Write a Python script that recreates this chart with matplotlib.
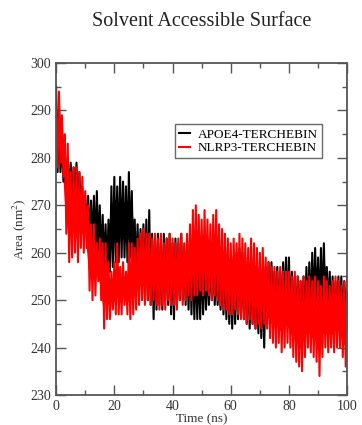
import numpy as np
import matplotlib
matplotlib.use("Agg")
import matplotlib.pyplot as plt
from matplotlib.ticker import MultipleLocator

plt.rcParams['font.family'] = ['Liberation Serif', 'DejaVu Serif']
plt.rcParams['mathtext.fontset'] = 'stix'

# time axis, 1 ns steps (0..100 ns)
time_ns = list(range(0, 101))

# APOE4-TERCHEBIN: upper / lower excursions read per ns
apoe4_hi = [295, 291, 285, 282, 280, 279, 278, 279, 277, 274,
            272, 272, 271, 272, 273, 270, 268, 266, 267, 274,
            276, 274, 276, 275, 274, 277, 273, 267, 266, 265,
            266, 267, 269, 264, 263, 264, 262, 264, 263, 264,
            262, 263, 262, 264, 261, 263, 262, 261, 260, 259,
            260, 259, 258, 260, 259, 258, 259, 258, 259, 260,
            259, 258, 260, 261, 260, 259, 258, 259, 258, 257,
            257, 256, 257, 258, 258, 256, 257, 256, 258, 259,
            259, 256, 255, 255, 254, 255, 257, 258, 260, 261,
            259, 261, 262, 257, 256, 255, 254, 255, 255, 254,
            255]
apoe4_lo = [277, 277, 275, 272, 271, 271, 270, 269, 268, 266,
            264, 262, 261, 260, 259, 257, 256, 256, 256, 257,
            258, 258, 259, 259, 258, 259, 257, 255, 253, 252,
            251, 250, 249, 246, 248, 249, 248, 250, 249, 247,
            246, 249, 250, 250, 249, 248, 247, 246, 246, 246,
            247, 248, 249, 250, 249, 249, 248, 247, 246, 245,
            244, 245, 246, 247, 246, 245, 244, 245, 244, 243,
            242, 240, 245, 246, 246, 247, 246, 246, 247, 246,
            245, 245, 244, 244, 243, 244, 245, 246, 247, 247,
            246, 247, 248, 247, 246, 245, 244, 245, 245, 244,
            244]

# NLRP3-TERCHEBIN
nlrp3_hi = [290, 294, 289, 285, 283, 277, 278, 278, 277, 276,
            273, 270, 266, 266, 262, 263, 262, 262, 258, 256,
            258, 262, 257, 258, 256, 262, 262, 261, 263, 264,
            265, 264, 264, 263, 264, 263, 264, 262, 263, 264,
            263, 262, 263, 264, 262, 264, 266, 269, 270, 268,
            267, 269, 267, 266, 268, 269, 266, 265, 264, 263,
            262, 263, 262, 264, 263, 262, 261, 263, 262, 261,
            260, 261, 259, 258, 257, 257, 256, 257, 256, 256,
            256, 255, 256, 255, 254, 255, 254, 255, 254, 255,
            254, 253, 255, 254, 253, 254, 255, 254, 253, 254,
            255]
nlrp3_lo = [278, 279, 276, 264, 258, 259, 260, 258, 261, 260,
            261, 252, 250, 251, 254, 250, 244, 246, 246, 248,
            247, 247, 247, 249, 247, 246, 247, 248, 249, 250,
            249, 250, 249, 250, 249, 248, 249, 248, 250, 249,
            249, 248, 250, 249, 250, 251, 250, 251, 251, 252,
            251, 252, 251, 250, 251, 250, 249, 248, 248, 247,
            247, 248, 247, 246, 246, 245, 246, 245, 244, 245,
            244, 245, 244, 242, 241, 240, 241, 239, 240, 241,
            240, 238, 237, 236, 235, 238, 240, 239, 238, 237,
            234, 238, 240, 239, 240, 239, 240, 240, 238, 236,
            240]


def zigzag(t, hi, lo):
    # alternate between the high and low excursion of each ns
    tt, vv = [], []
    for i in range(len(t)):
        tt += [t[i], t[i] + 0.5]
        vv += [hi[i], lo[i]]
    return np.array(tt[:-1]), np.array(vv[:-1])


fig = plt.figure(figsize=(3.62, 4.25), dpi=100)
ax = fig.add_axes([0.155, 0.0706, 0.804, 0.781])

for hi, lo, col, name in [(apoe4_hi, apoe4_lo, 'black', 'APOE4-TERCHEBIN'),
                          (nlrp3_hi, nlrp3_lo, '#ff0000', 'NLRP3-TERCHEBIN')]:
    tx, vy = zigzag(time_ns, hi, lo)
    # solid core of the trace, then the spiky excursions on top
    core_hi = [(h * 0.75 + l * 0.25) for h, l in zip(hi, lo)]
    core_lo = [(h * 0.25 + l * 0.75) for h, l in zip(hi, lo)]
    ax.fill_between(time_ns, core_lo, core_hi, color=col, lw=0)
    ax.plot(tx, vy, color=col, lw=1.5, label=name)

ax.set_xlim(0, 100)
ax.set_ylim(230, 300)
ax.xaxis.set_major_locator(MultipleLocator(20))
ax.xaxis.set_minor_locator(MultipleLocator(10))
ax.yaxis.set_major_locator(MultipleLocator(10))
ax.yaxis.set_minor_locator(MultipleLocator(5))
ax.tick_params(which='both', direction='in', top=True, right=True,
               colors='#555555', labelcolor='#333333', labelsize=10)
ax.tick_params(which='major', length=7, width=1)
ax.tick_params(which='minor', length=3.5, width=1)
for s in ax.spines.values():
    s.set_color('#555555')
    s.set_linewidth(1.3)

ax.set_xlabel('Time (ns)', fontsize=9.5, color='#333333', labelpad=0)
ax.set_ylabel('Area (nm$^2$)', fontsize=9.5, color='#333333', labelpad=2)
fig.text(0.557, 0.95, 'Solvent Accessible Surface', ha='center', va='center',
         fontsize=14.5, color='#222222')

leg = ax.legend(loc='upper right', bbox_to_anchor=(0.935, 0.835), fontsize=9.5,
                frameon=True, fancybox=False, handlelength=0.8,
                borderpad=0.3, labelspacing=0.1, handletextpad=0.6)
leg.get_frame().set_edgecolor('#444444')
leg.get_frame().set_linewidth(1.0)
for line in leg.get_lines():
    line.set_linewidth(1.5)

fig.savefig('out.png', dpi=100)
